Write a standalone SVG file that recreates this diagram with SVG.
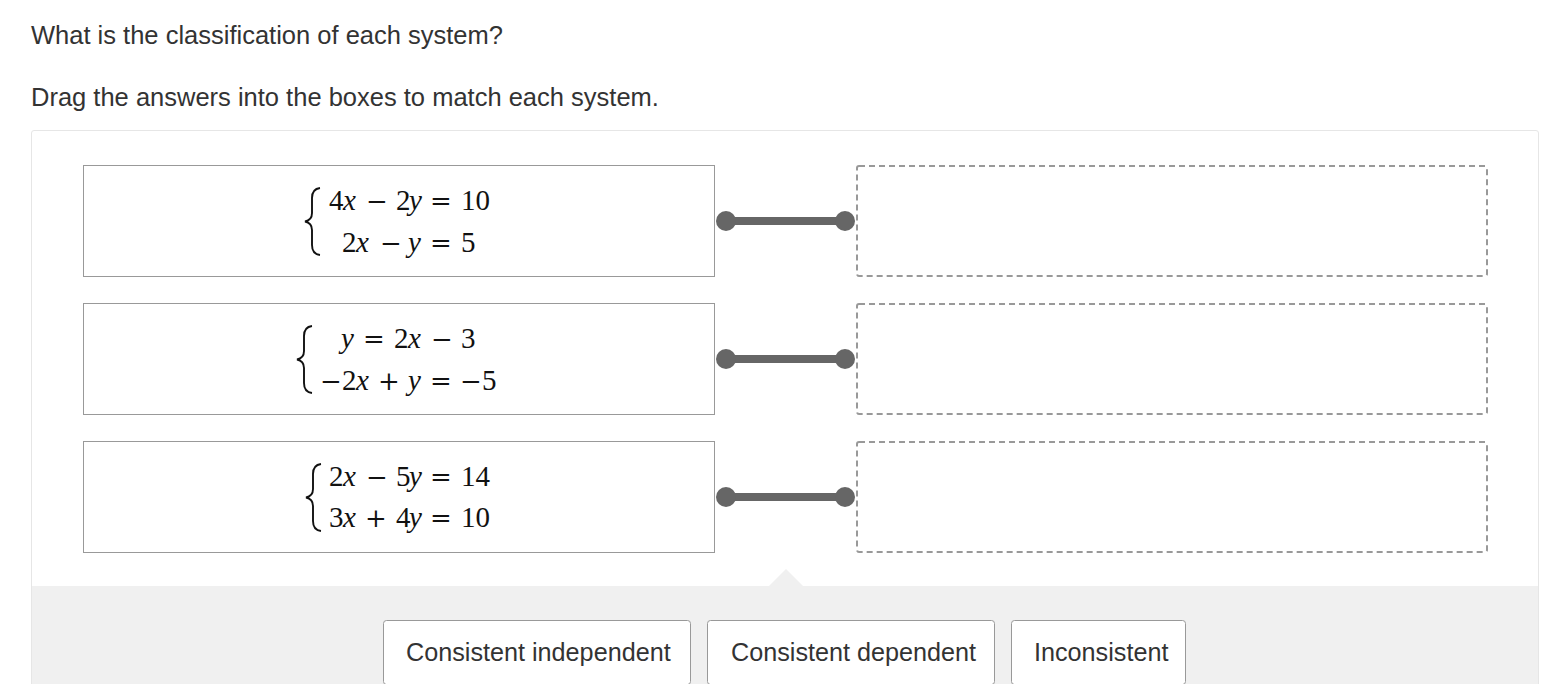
<svg xmlns="http://www.w3.org/2000/svg" width="1560" height="696" viewBox="0 0 1560 696">
<style>
.hdr{font-family:"Liberation Sans",Arial,sans-serif;font-size:25.5px;fill:#333}
.btn{font-family:"Liberation Sans",Arial,sans-serif;font-size:25.2px;fill:#333}
.sysbox{fill:#fff;stroke:#999;stroke-width:1}
.drop{fill:#fff;stroke:#999;stroke-width:2;stroke-dasharray:6 4}
.m{font-family:"Liberation Serif","Times New Roman",serif;font-size:29px;fill:#111}
.i{font-style:italic}
.op{font-family:"DejaVu Serif",serif;font-size:26px}
.brace{fill:none;stroke:#111;stroke-width:1.9}
.conn line{stroke:#666;stroke-width:8}
.conn circle{fill:#666}
.bbox{fill:#fff;stroke:#999;stroke-width:1}
</style>
<rect width="1560" height="696" fill="#fff"/>
<text class="hdr" x="31" y="44">What is the classification of each system?</text>
<text class="hdr" x="31" y="106">Drag the answers into the boxes to match each system.</text>
<path d="M31.5,684 V133 Q31.5,130.5 34,130.5 H1536 Q1538.5,130.5 1538.5,133 V684" fill="#fff" stroke="#e6e6e6" stroke-width="1"/>
<path d="M32,586 H769 L786,569 L803,586 H1538 V684 H32 Z" fill="#f0f0f0"/>

<g id="system1">
<rect class="sysbox" x="83.5" y="165.5" width="631" height="111"/>
<path class="brace" d="M320,188 Q312,189 312,198 V213 Q312,220 305,221.5 Q312,223 312,230 V245 Q312,254 320,255"/>
<text class="m" y="210"><tspan x="329">4</tspan><tspan class="i" x="343">x</tspan><tspan class="op" x="366">−</tspan><tspan x="396">2</tspan><tspan class="i" x="409">y</tspan><tspan class="op" x="430">=</tspan><tspan x="461">10</tspan></text>
<text class="m" y="252"><tspan x="342">2</tspan><tspan class="i" x="356">x</tspan><tspan class="op" x="380">−</tspan><tspan class="i" x="408">y</tspan><tspan class="op" x="430">=</tspan><tspan x="461">5</tspan></text>
</g>

<g id="system2">
<rect class="sysbox" x="83.5" y="303.5" width="631" height="111"/>
<path class="brace" d="M312,326 Q304,327 304,336 V351 Q304,358 297,359.5 Q304,361 304,368 V383 Q304,392 312,393"/>
<text class="m" y="348"><tspan class="i" x="341">y</tspan><tspan class="op" x="363">=</tspan><tspan x="394">2</tspan><tspan class="i" x="408">x</tspan><tspan class="op" x="431">−</tspan><tspan x="461">3</tspan></text>
<text class="m" y="390"><tspan class="op" x="320">−</tspan><tspan x="342">2</tspan><tspan class="i" x="356">x</tspan><tspan class="op" x="378">+</tspan><tspan class="i" x="408">y</tspan><tspan class="op" x="430">=</tspan><tspan class="op" x="460">−</tspan><tspan x="482">5</tspan></text>
</g>

<g id="system3">
<rect class="sysbox" x="83.5" y="441.5" width="631" height="111"/>
<path class="brace" d="M321,464 Q313,465 313,474 V489 Q313,496 306,497.5 Q313,499 313,506 V521 Q313,530 321,531"/>
<text class="m" y="486"><tspan x="329">2</tspan><tspan class="i" x="343">x</tspan><tspan class="op" x="366">−</tspan><tspan x="396">5</tspan><tspan class="i" x="409">y</tspan><tspan class="op" x="430">=</tspan><tspan x="461">14</tspan></text>
<text class="m" y="527"><tspan x="329">3</tspan><tspan class="i" x="343">x</tspan><tspan class="op" x="365">+</tspan><tspan x="396">4</tspan><tspan class="i" x="409">y</tspan><tspan class="op" x="430">=</tspan><tspan x="461">10</tspan></text>
</g>

<g id="drop1"><rect class="drop" x="857" y="166" width="630" height="110" rx="2"/></g>
<g id="drop2"><rect class="drop" x="857" y="304" width="630" height="110" rx="2"/></g>
<g id="drop3"><rect class="drop" x="857" y="442" width="630" height="110" rx="2"/></g>

<g id="connectors" class="conn">
<line x1="726" y1="221" x2="845" y2="221"/><circle cx="726" cy="221" r="10"/><circle cx="845" cy="221" r="10"/>
<line x1="726" y1="359" x2="845" y2="359"/><circle cx="726" cy="359" r="10"/><circle cx="845" cy="359" r="10"/>
<line x1="726" y1="497" x2="845" y2="497"/><circle cx="726" cy="497" r="10"/><circle cx="845" cy="497" r="10"/>
</g>

<g id="answer1"><rect class="bbox" x="383.5" y="620.5" width="307" height="64" rx="3"/><text class="btn" x="406" y="661">Consistent independent</text></g>
<g id="answer2"><rect class="bbox" x="707.5" y="620.5" width="287" height="64" rx="3"/><text class="btn" x="731" y="661">Consistent dependent</text></g>
<g id="answer3"><rect class="bbox" x="1011.5" y="620.5" width="174" height="64" rx="3"/><text class="btn" x="1034" y="661">Inconsistent</text></g>
<rect x="0" y="684" width="1560" height="12" fill="#fff"/>
</svg>
